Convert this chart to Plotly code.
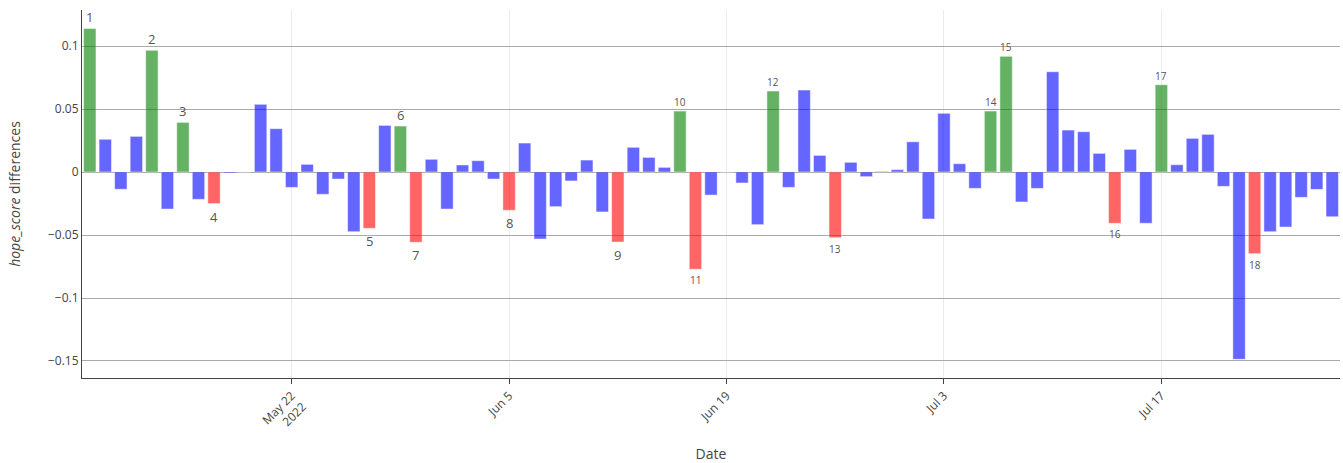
import plotly.graph_objects as go
import pandas as pd

dates = pd.date_range("2022-05-09", "2022-07-28", freq="D")

values = [
    0.114, 0.026, -0.0137, 0.0283, 0.0966, -0.0294, 0.0394, -0.0217, -0.0251, -0.0008,
    0.0, 0.0537, 0.0344, -0.0122, 0.0061, -0.0177, -0.0056, -0.0474, -0.0447, 0.037,
    0.0365, -0.0558, 0.0101, -0.0294, 0.0056, 0.009, -0.0056, -0.0304, 0.023, -0.0532,
    -0.0275, -0.0071, 0.0095, -0.0317, -0.0556, 0.0196, 0.0116, 0.0037, 0.0484, -0.0772,
    -0.0183, 0.0, -0.0087, -0.0418, 0.0643, -0.0122, 0.0651, 0.0132, -0.0521, 0.0077,
    -0.0037, 0.0005, 0.0019, 0.024, -0.0373, 0.0466, 0.0066, -0.013, 0.0484, 0.0918,
    -0.0238, -0.013, 0.0796, 0.0333, 0.032, 0.0148, -0.0407, 0.018, -0.0407, 0.0693,
    0.0058, 0.0267, 0.0299, -0.0114, -0.1487, -0.0648, -0.0474, -0.0437, -0.0201, -0.0138,
    -0.0355,
]

# Highlighted days (index into dates) and their label numbers
highlight_idx = [0, 4, 6, 8, 18, 20, 21, 27, 34, 38, 39, 44, 48, 58, 59, 66, 69, 75]
highlight_lbl = [str(i) for i in range(1, 19)]
label_sizes = [13] * 9 + [10] * 9

colors = []
for i, v in enumerate(values):
    if i in highlight_idx:
        colors.append("green" if v > 0 else "red")
    else:
        colors.append("blue")

fig = go.Figure()
fig.add_trace(go.Bar(
    x=dates, y=values,
    marker=dict(color=colors, line=dict(color="white", width=0.5)),
    opacity=0.6,
    showlegend=False,
))

for idx, lbl, sz in zip(highlight_idx, highlight_lbl, label_sizes):
    v = values[idx]
    fig.add_annotation(
        x=dates[idx], y=v, text=lbl, showarrow=False,
        yanchor="bottom" if v > 0 else "top",
        yshift=0 if v > 0 else -2,
        font=dict(size=sz, color="#555"),
    )

fig.update_layout(
    width=1343, height=463,
    template="plotly_white",
    margin=dict(l=82, r=3, t=10, b=85),
    font=dict(family="Open Sans, verdana, arial, sans-serif", color="#444", size=12),
    xaxis=dict(
        title=dict(text="Date", font=dict(size=14), standoff=22),
        automargin=False,
        tickangle=-45, dtick=14 * 86400000, tick0="2022-05-22",
        showline=True, linecolor="#444", linewidth=1,
        ticks="outside", tickcolor="#444", ticklen=5,
        showgrid=True, gridcolor="#ebebeb",
        range=["2022-05-08 12:00", "2022-07-28 12:00"],
    ),
    yaxis=dict(
        title=dict(text="<i>hope_score</i> differences", font=dict(size=14), standoff=24),
        automargin=False,
        showline=True, linecolor="#444", linewidth=1,
        showgrid=True, gridcolor="#a9a9a9", gridwidth=1,
        zeroline=True, zerolinecolor="#a9a9a9", zerolinewidth=1,
        range=[-0.1635, 0.1286],
        tickvals=[-0.15, -0.1, -0.05, 0, 0.05, 0.1],
    ),
)

fig.write_html(
    "out.html",
    config={"displayModeBar": False},
    post_script="document.body.style.margin='0';document.documentElement.style.overflow='hidden';",
)
